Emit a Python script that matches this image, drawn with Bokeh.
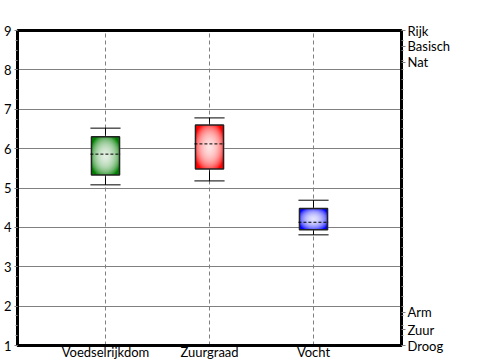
from bokeh.plotting import figure
from bokeh.models import (LinearAxis, FixedTicker, Range1d, ColumnDataSource)
from bokeh.embed import file_html
from bokeh.resources import INLINE

# ---- data ----
categories = ["Voedselrijkdom", "Zuurgraad", "Vocht"]
whisker_low = [5.08, 5.18, 3.81]
q1 = [5.33, 5.48, 3.94]
median = [5.86, 6.12, 4.13]
q3 = [6.30, 6.60, 4.48]
whisker_high = [6.52, 6.78, 4.69]
colors = ["#008000", "#ff0000", "#0000ff"]
right_ticks = [9, 8.6, 8.2, 1.85, 1.4, 1.0]
right_labels = ["Rijk", "Basisch", "Nat", "Arm", "Zuur", "Droog"]
left_ticks = [1, 2, 3, 4, 5, 6, 7, 8, 9]

FONT = "Lato"
FS = "13px"

xs = list(range(len(categories)))
box_w = 0.27
cap_w = 0.29

src = ColumnDataSource(dict(
    x=xs, lo=whisker_low, q1=q1, med=median, q3=q3, hi=whisker_high,
    color=colors,
    cl=[x - cap_w / 2 for x in xs], cr=[x + cap_w / 2 for x in xs],
    mid=[(a + b) / 2 for a, b in zip(q1, q3)],
    h=[b - a for a, b in zip(q1, q3)],
))

p = figure(width=500, height=362, output_backend="svg", toolbar_location=None,
           x_range=Range1d(-0.846, 2.846), y_range=Range1d(1, 9),
           min_border_left=17, min_border_right=99, min_border_top=30,
           min_border_bottom=15, x_axis_location=None, y_axis_location=None)
p.background_fill_color = "white"
p.border_fill_color = "white"
p.outline_line_color = "black"
p.outline_line_width = 3

# axes
minor = [1 + 0.25 * i for i in range(33)]
left = LinearAxis(ticker=FixedTicker(ticks=left_ticks, minor_ticks=minor))
left.axis_line_width = 3
left.axis_line_color = "black"
left.major_tick_out = 3
left.major_tick_in = 0
left.minor_tick_out = 2
left.minor_tick_in = 0
left.major_tick_line_color = "#808080"
left.minor_tick_line_color = "#808080"
left.major_label_standoff = 3
left.major_label_text_font = FONT
left.major_label_text_font_size = FS
left.major_label_text_color = "black"
p.add_layout(left, "left")

right = LinearAxis(ticker=FixedTicker(ticks=right_ticks, minor_ticks=minor))
right.major_label_overrides = {t: l for t, l in zip(right_ticks, right_labels)}
right.axis_line_width = 3
right.axis_line_color = "black"
right.major_tick_out = 4
right.major_tick_in = 0
right.minor_tick_out = 2
right.minor_tick_in = 0
right.major_tick_line_color = "#808080"
right.minor_tick_line_color = "#808080"
right.major_label_standoff = 2
right.major_label_text_font = FONT
right.major_label_text_font_size = FS
right.major_label_text_color = "black"
p.add_layout(right, "right")

bottom = LinearAxis(ticker=FixedTicker(ticks=xs))
bottom.major_label_overrides = {x: c for x, c in zip(xs, categories)}
bottom.axis_line_width = 3
bottom.axis_line_color = "black"
bottom.major_tick_out = 0
bottom.major_tick_in = 0
bottom.minor_tick_line_color = None
bottom.major_label_standoff = -2
bottom.major_label_text_font = FONT
bottom.major_label_text_font_size = FS
bottom.major_label_text_color = "black"
p.add_layout(bottom, "below")

# grids
p.xgrid.ticker = FixedTicker(ticks=xs)
p.xgrid.grid_line_color = "#808080"
p.xgrid.grid_line_dash = "4 3"
p.xgrid.grid_line_width = 1
p.ygrid.ticker = FixedTicker(ticks=[2, 3, 4, 5, 6, 7, 8])
p.ygrid.grid_line_color = "#808080"
p.ygrid.grid_line_width = 1

# whiskers
p.segment(x0="x", y0="lo", x1="x", y1="q1", source=src, line_color="black", line_width=1)
p.segment(x0="x", y0="q3", x1="x", y1="hi", source=src, line_color="black", line_width=1)
p.segment(x0="cl", y0="lo", x1="cr", y1="lo", source=src, line_color="black", line_width=1)
p.segment(x0="cl", y0="hi", x1="cr", y1="hi", source=src, line_color="black", line_width=1)

# boxes
p.vbar(x="x", width=box_w, bottom="q1", top="q3", source=src,
       fill_color="color", line_color=None)
# radial gradient imitation
N = 30
for k in range(N, 0, -1):
    f = k / N
    gsrc = ColumnDataSource(dict(x=xs, mid=src.data["mid"],
                                 w=[box_w * f * 1.15] * len(xs),
                                 hh=[hv * f * 1.15 for hv in src.data["h"]]))
    p.ellipse(x="x", y="mid", width="w", height="hh", source=gsrc,
              fill_color="white", fill_alpha=0.08, line_color=None)
p.vbar(x="x", width=box_w, bottom="q1", top="q3", source=src,
       fill_color=None, line_color="#222222", line_width=1.5)

# median
p.segment(x0="cl", y0="med", x1="cr", y1="med", source=src,
          line_color="black", line_width=1, line_dash="3 2")

open("out.html", "w").write(file_html(p, INLINE))
